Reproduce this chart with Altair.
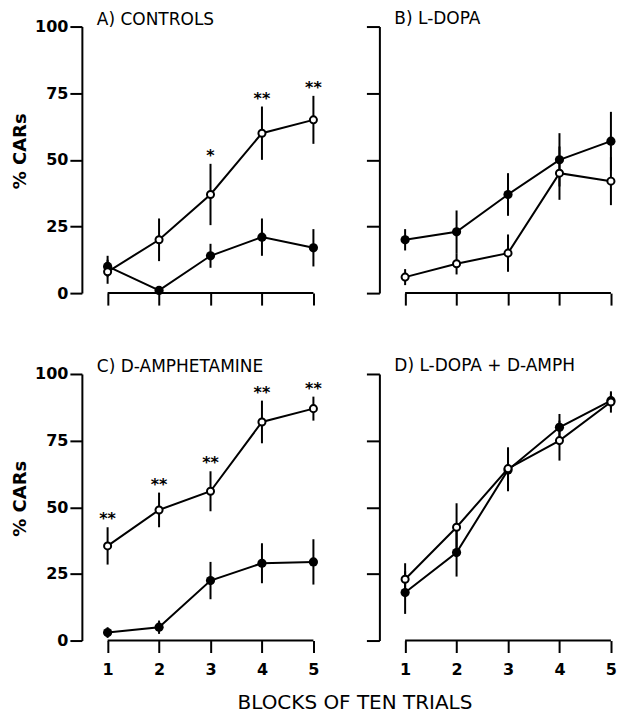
import altair as alt
import pandas as pd

blocks = [1, 2, 3, 4, 5]
y_ticks = [0, 25, 50, 75, 100]
titles = ["A) CONTROLS", "B) L-DOPA", "C) D-AMPHETAMINE", "D) L-DOPA + D-AMPH"]

# open circles / filled circles, mean % CARs and error (SEM)
a_open = [8, 20, 37, 60, 65]
a_open_sem = [4.5, 8, 11.5, 10, 9]
a_filled = [10, 1, 14, 21, 17]
a_filled_sem = [4, 1.5, 4.5, 7, 7]
a_stars = ["", "", "*", "**", "**"]

b_open = [6, 11, 15, 45, 42]
b_open_sem = [3, 4, 7, 10, 9]
b_filled = [20, 23, 37, 50, 57]
b_filled_sem = [4, 8, 8, 10, 11]
b_stars = ["", "", "", "", ""]

c_open = [35.5, 49, 56, 82, 87]
c_open_sem = [7, 6.5, 7.5, 8, 4.5]
c_filled = [3, 5, 22.5, 29, 29.5]
c_filled_sem = [2, 2.5, 7, 7.5, 8.5]
c_stars = ["**", "**", "**", "**", "**"]

d_open = [23, 42.5, 64.5, 75, 89.5]
d_open_sem = [6, 9, 8, 7.5, 4]
d_filled = [18, 33, 64, 80, 90]
d_filled_sem = [8, 9, 8, 5, 3]
d_stars = ["", "", "", "", ""]

FONT = "DejaVu Sans"
W, H = 235, 267


def frame(open_m, open_s, filled_m, filled_s, stars):
    rows = []
    for i, b in enumerate(blocks):
        rows.append(dict(block=b, series="open", mean=open_m[i],
                         lo=max(open_m[i] - open_s[i], 0), hi=open_m[i] + open_s[i], star=stars[i]))
        rows.append(dict(block=b, series="filled", mean=filled_m[i],
                         lo=max(filled_m[i] - filled_s[i], 0), hi=filled_m[i] + filled_s[i], star=""))
    return pd.DataFrame(rows)


def panel(title, df, show_y, show_x):
    xs = alt.Scale(domain=[0.5, 5.06], nice=False, zero=False)
    ys = alt.Scale(domain=[0, 100], nice=False)
    xax = alt.Axis(values=blocks, domain=False, tickSize=12, labels=show_x,
                   title=None, grid=False, format="d", labelPadding=9)
    if show_y:
        yax = alt.Axis(values=y_ticks, tickSize=12, labels=True, title="% CARs",
                       titleFontSize=18, titleFont=FONT, titleFontWeight="bold",
                       titleY=H / 2 - 9, titlePadding=5, grid=False, labelPadding=2)
    else:
        yax = alt.Axis(values=y_ticks, tickSize=13, labels=False, title=None, grid=False)

    def X(f):
        return alt.X(f, type="quantitative", scale=xs, axis=xax)

    def Y(f):
        return alt.Y(f, type="quantitative", scale=ys, axis=yax)

    base = alt.Chart(df)
    xline = base.transform_aggregate(x1="min(block)", x2="max(block)").transform_calculate(
        zero="0").mark_rule(color="black", strokeWidth=2).encode(
        x=X("x1"), x2="x2:Q", y=Y("zero"))
    err = base.mark_rule(color="black", strokeWidth=2).encode(x=X("block"), y=Y("lo"), y2="hi:Q")
    lines = base.mark_line(color="black", strokeWidth=2).encode(
        x=X("block"), y=Y("mean"), detail="series:N")
    filled = base.transform_filter("datum.series == 'filled'").mark_point(
        shape="circle", filled=True, color="black", size=85, opacity=1).encode(
        x=X("block"), y=Y("mean"))
    opened = base.transform_filter("datum.series == 'open'").mark_point(
        shape="circle", filled=True, fill="white", stroke="black", strokeWidth=2,
        size=50, opacity=1).encode(x=X("block"), y=Y("mean"))
    stars = base.transform_filter("datum.star != ''").transform_calculate(
        sy="datum.hi + 3").mark_text(font=FONT, fontSize=16, fontWeight="bold",
                                     baseline="middle", color="black").encode(
        x=X("block"), y=Y("sy"), text="star:N")
    return alt.layer(xline, err, lines, filled, opened, stars).properties(
        width=W, height=H,
        title=alt.TitleParams(title, anchor="start", frame="group", fontSize=17,
                              fontWeight="normal", font=FONT, dx=15,
                              offset=-10 if show_y else -2, color="black"))


pa = panel(titles[0], frame(a_open, a_open_sem, a_filled, a_filled_sem, a_stars), True, False)
pb = panel(titles[1], frame(b_open, b_open_sem, b_filled, b_filled_sem, b_stars), False, False)
pc = panel(titles[2], frame(c_open, c_open_sem, c_filled, c_filled_sem, c_stars), True, True)
pd_ = panel(titles[3], frame(d_open, d_open_sem, d_filled, d_filled_sem, d_stars), False, True)

top = alt.hconcat(pa, pb, spacing=43)
bottom = alt.hconcat(pc, pd_, spacing=43)

chart = alt.vconcat(top, bottom, spacing=51).properties(
    padding={"left": 3, "top": 1, "right": 0, "bottom": 0},
    title=alt.TitleParams("BLOCKS OF TEN TRIALS", orient="bottom", anchor="middle",
                          fontSize=20, fontWeight="normal", font=FONT, offset=16, dx=40,
                          color="black"),
).configure_view(stroke=None).configure_axis(
    domainColor="black", tickColor="black", labelColor="black", titleColor="black",
    domainWidth=2, tickWidth=2, labelFont=FONT, labelFontSize=16, labelFontWeight="bold",
    grid=False,
)

chart.save("out.html", embed_options={"renderer": "svg", "actions": False})
